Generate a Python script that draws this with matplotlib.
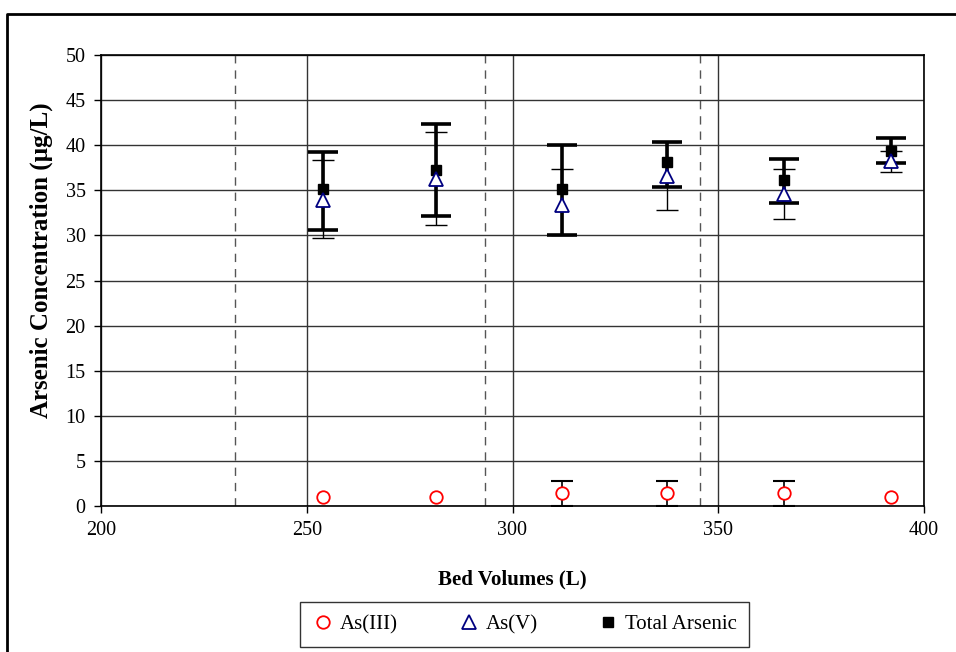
import numpy as np
import matplotlib
matplotlib.use("Agg")
import matplotlib.pyplot as plt
from matplotlib.lines import Line2D

plt.rcParams['font.family'] = ['Liberation Serif', 'DejaVu Serif']

# bed volumes of each sample
bed_volumes = [254, 281.5, 312, 337.5, 366, 392]

# As(III) and its error range
as3 = [1.0, 1.0, 1.4, 1.4, 1.4, 1.0]
as3_low = [1.0, 1.0, 0.0, 0.0, 0.0, 1.0]
as3_high = [1.0, 1.0, 2.8, 2.8, 2.8, 1.0]

# As(V) and its error range
as5 = [33.9, 36.2, 33.4, 36.6, 34.6, 38.2]
as5_low = [29.7, 31.2, 30.0, 32.8, 31.8, 37.0]
as5_high = [38.4, 41.5, 37.4, 40.4, 37.4, 39.4]

# total arsenic and its error range
total = [35.1, 37.3, 35.1, 38.1, 36.1, 39.4]
total_low = [30.6, 32.1, 30.0, 35.4, 33.6, 38.0]
total_high = [39.3, 42.4, 40.0, 40.4, 38.5, 40.8]

# dashed markers between runs
run_breaks = [232.6, 293.3, 345.6]

fig = plt.figure(figsize=(9.56, 6.52), dpi=100)
ax = fig.add_axes([101 / 956, 1 - 506 / 652, (924 - 101) / 956, (506 - 55) / 652])

x = np.array(bed_volumes)


def err(vals, low, high):
    vals = np.array(vals)
    return [vals - np.array(low), np.array(high) - vals]


# error bars (As(III) only where there is a spread)
m3 = np.array(as3_high) > np.array(as3_low)
ax.errorbar(x[m3], np.array(as3)[m3],
            yerr=[e[m3] for e in err(as3, as3_low, as3_high)], fmt='none',
            ecolor='black', elinewidth=1.2, capsize=8, capthick=1.5, zorder=3)
ax.errorbar(x, as5, yerr=err(as5, as5_low, as5_high), fmt='none',
            ecolor='black', elinewidth=1, capsize=8, capthick=1, zorder=3)
ax.errorbar(x, total, yerr=err(total, total_low, total_high), fmt='none',
            ecolor='black', elinewidth=2.6, capsize=10.5, capthick=2.6, zorder=4)

# markers
ax.plot(x, total, linestyle='none', marker='s', markersize=6.5,
        color='black', zorder=5, label='Total Arsenic')
ax.plot(x, as5, linestyle='none', marker='^', markersize=10,
        markerfacecolor='white', markeredgecolor='#000080', markeredgewidth=1.3,
        zorder=6, label='As(V)')
ax.plot(x, as3, linestyle='none', marker='o', markersize=9,
        markerfacecolor='white', markeredgecolor='#ff0000', markeredgewidth=1.3,
        zorder=6, label='As(III)')

for xb in run_breaks:
    ax.axvline(xb, color='#555555', linestyle=(0, (6, 5)), linewidth=1, zorder=1)

ax.set_xlim(200, 400)
ax.set_ylim(0, 50)
ax.set_xticks(np.arange(200, 401, 50))
ax.set_yticks(np.arange(0, 51, 5))
ax.grid(True, color='#333333', linewidth=1, zorder=0)
ax.set_axisbelow(True)
ax.tick_params(direction='out', length=5, width=1, labelsize=14.5, pad=6)
for s in ax.spines.values():
    s.set_linewidth(1.2)
    s.set_color('black')

ax.set_xlabel('Bed Volumes (L)', fontsize=15, fontweight='bold')
ax.set_ylabel('Arsenic Concentration (µg/L)', fontsize=18, fontweight='bold')
ax.xaxis.set_label_coords(0.5, -0.14)
ax.yaxis.set_label_coords(-0.058, 0.545)

handles, labels = ax.get_legend_handles_labels()
order = [2, 1, 0]
leg = fig.legend([handles[i] for i in order], [labels[i] for i in order],
                 loc='center', bbox_to_anchor=(0.549, 0.042), ncol=3,
                 fontsize=15, frameon=True, fancybox=False, handlelength=1,
                 handletextpad=0.3, columnspacing=2.9, borderpad=0.6)
leg.get_frame().set_edgecolor('black')
leg.get_frame().set_linewidth(1)

# outer frame (top and left only visible)
fig.add_artist(Line2D([7 / 956, 7 / 956, 1.0], [0.0, 1 - 14 / 652, 1 - 14 / 652],
                      transform=fig.transFigure, color='black', linewidth=2))

fig.savefig('out.png', dpi=100)
